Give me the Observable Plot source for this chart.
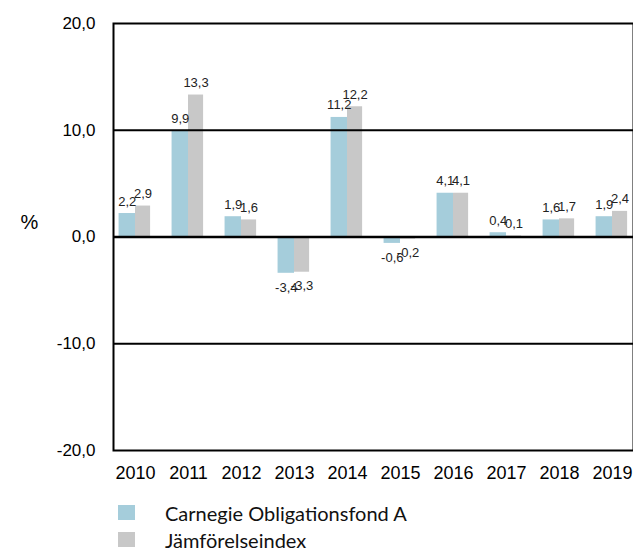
<!DOCTYPE html>
<html>
<head>
<meta charset="utf-8">
<script src="https://cdn.jsdelivr.net/npm/d3@7"></script>
<script src="https://cdn.jsdelivr.net/npm/@observablehq/plot@0.6"></script>
<style>
  html, body { margin: 0; padding: 0; background: #fff; }
  #chart { width: 633px; }
  #chart svg, #chart svg text { font-family: "Liberation Sans", Arial, sans-serif !important; }
  .legend { font-family: Lato, "Open Sans", sans-serif; font-size: 20px; color: #111; margin-top: 4px; }
  .legend .row { display: flex; align-items: center; height: 27px; }
  .legend .sw { width: 17px; height: 15px; margin-left: 118px; margin-right: 30px; }
</style>
</head>
<body>
<div id="chart"></div>
<script>
const years = [2010, 2011, 2012, 2013, 2014, 2015, 2016, 2017, 2018, 2019];
const fund = [2.2, 9.9, 1.9, -3.4, 11.2, -0.6, 4.1, 0.4, 1.6, 1.9];
const index = [2.9, 13.3, 1.6, -3.3, 12.2, -0.2, 4.1, 0.1, 1.7, 2.4];
const seriesNames = ["Carnegie Obligationsfond A", "Jämförelseindex"];
const seriesColors = ["#a5cddb", "#c8c8c8"];
const yTicks = [-20, -10, 0, 10, 20];
const gridLines = [-10, 0, 10];

const rows = [];
years.forEach((yr, i) => {
  rows.push({year: yr, series: seriesNames[0], value: fund[i], side: 0});
  rows.push({year: yr, series: seriesNames[1], value: index[i], side: 1});
});
// bar extents inside each year slot (scale units of one year)
const leftW = 0.31, rightW = 0.285;
const x1 = d => d.side === 0 ? d.year - leftW : d.year;
const x2 = d => d.side === 0 ? d.year : d.year + rightW;
const xc = d => (x1(d) + x2(d)) / 2;
const fmt = v => d3.format(".1f")(v).replace(".", ",").replace("\u2212", "-");

const pos = rows.filter(d => d.value >= 0);
const neg = rows.filter(d => d.value < 0);
const FONT = "'Liberation Sans', Arial, sans-serif";

const chart = Plot.plot({
  width: 633,
  height: 495,
  marginLeft: 113,
  marginRight: 0,
  marginTop: 23,
  marginBottom: 45,
  style: {fontFamily: FONT, background: "#fff", color: "#000"},
  x: {type: "linear", domain: [years[0] - 0.415, years[years.length - 1] + 0.396]},
  y: {domain: [-20, 20]},
  color: {domain: seriesNames, range: seriesColors},
  marks: [
    Plot.rectY(rows, {x1, x2, y1: 0, y2: "value", fill: "series"}),
    Plot.ruleY(gridLines, {stroke: "#000", strokeWidth: d => d === 0 ? 2.5 : 1.8}),
    Plot.frame({stroke: "#000", strokeWidth: 2}),
    Plot.text(pos, {x: xc, y: "value", text: d => fmt(d.value), dy: -8, lineAnchor: "bottom", fontSize: 13, fill: "#222", fontFamily: FONT}),
    Plot.text(neg, {x: xc, y: "value", text: d => fmt(d.value), dy: 9, lineAnchor: "top", fontSize: 13, fill: "#222", fontFamily: FONT}),
    Plot.axisY({ticks: yTicks, tickFormat: fmt, tickSize: 0, tickPadding: 18, fontSize: 17, label: null, fontFamily: FONT}),
    Plot.axisX({ticks: years, tickFormat: d => String(d), tickSize: 0, tickPadding: 16, fontSize: 18, label: null, fontFamily: FONT}),
    Plot.text(["%"], {frameAnchor: "left", dx: -93, dy: -14, fontSize: 20, fill: "#000", fontFamily: FONT})
  ]
});
document.getElementById("chart").appendChild(chart);

const legend = document.createElement("div");
legend.className = "legend";
seriesNames.forEach((name, i) => {
  const row = document.createElement("div");
  row.className = "row";
  const sw = document.createElement("span");
  sw.className = "sw";
  sw.style.background = seriesColors[i];
  const label = document.createElement("span");
  label.textContent = name;
  row.appendChild(sw);
  row.appendChild(label);
  legend.appendChild(row);
});
document.getElementById("chart").appendChild(legend);
</script>
</body>
</html>
